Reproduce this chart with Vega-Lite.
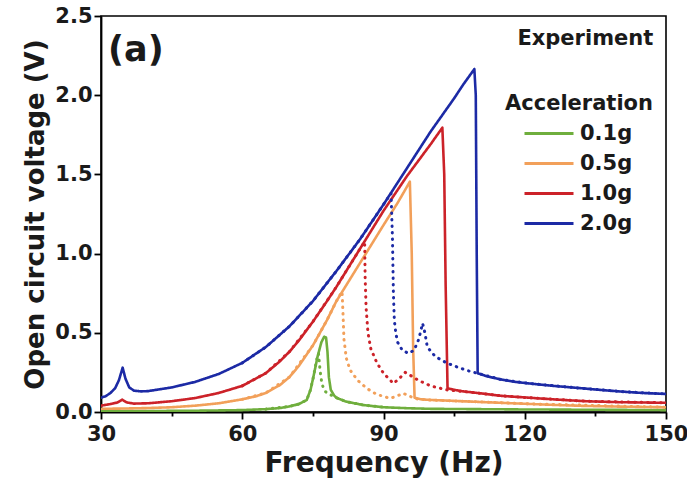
{
  "$schema": "https://vega.github.io/schema/vega-lite/v6.json",
  "width": 565,
  "height": 396,
  "autosize": {"type": "none"},
  "padding": {"left": 101, "top": 16, "right": 21, "bottom": 75},
  "background": "white",
  "config": {
    "font": "DejaVu Sans",
    "view": {"stroke": "#000", "strokeWidth": 1.6},
    "axis": {
      "grid": false,
      "domainColor": "#000",
      "domainWidth": 1.8,
      "tickColor": "#000",
      "tickWidth": 1.8,
      "labelFont": "DejaVu Sans",
      "labelFontWeight": "bold",
      "labelFontSize": 21,
      "labelColor": "#1a1a1a",
      "titleFont": "DejaVu Sans",
      "titleFontWeight": "bold",
      "titleColor": "#1a1a1a"
    }
  },
  "layer": [
    {
      "data": {"values": [
    {"a":"0.1g","s":"up","f":30,"v":0.005},{"a":"0.1g","s":"up","f":40,"v":0.006},{"a":"0.1g","s":"up","f":50,"v":0.008},{"a":"0.1g","s":"up","f":55,"v":0.01},{"a":"0.1g","s":"up","f":60,"v":0.012},{"a":"0.1g","s":"up","f":65,"v":0.018},{"a":"0.1g","s":"up","f":68,"v":0.025},{"a":"0.1g","s":"up","f":70,"v":0.035},{"a":"0.1g","s":"up","f":72,"v":0.05},{"a":"0.1g","s":"up","f":73.7,"v":0.076},{"a":"0.1g","s":"up","f":74.5,"v":0.14},{"a":"0.1g","s":"up","f":75.1,"v":0.22},{"a":"0.1g","s":"up","f":76,"v":0.35},{"a":"0.1g","s":"up","f":76.8,"v":0.44},{"a":"0.1g","s":"up","f":77.4,"v":0.475},{"a":"0.1g","s":"up","f":77.8,"v":0.47},{"a":"0.1g","s":"up","f":78.1,"v":0.38},{"a":"0.1g","s":"up","f":78.4,"v":0.22},{"a":"0.1g","s":"up","f":78.8,"v":0.14},{"a":"0.1g","s":"up","f":79.5,"v":0.105},{"a":"0.1g","s":"up","f":80,"v":0.09},{"a":"0.1g","s":"up","f":82,"v":0.066},{"a":"0.1g","s":"up","f":85.7,"v":0.044},{"a":"0.1g","s":"up","f":90,"v":0.03},{"a":"0.1g","s":"up","f":95,"v":0.024},{"a":"0.1g","s":"up","f":100,"v":0.02},{"a":"0.1g","s":"up","f":110,"v":0.018},{"a":"0.1g","s":"up","f":120,"v":0.016},{"a":"0.1g","s":"up","f":135,"v":0.014},{"a":"0.1g","s":"up","f":150,"v":0.012},

    {"a":"0.5g","s":"up","f":30,"v":0.02},{"a":"0.5g","s":"up","f":35,"v":0.022},{"a":"0.5g","s":"up","f":40,"v":0.025},{"a":"0.5g","s":"up","f":45,"v":0.03},{"a":"0.5g","s":"up","f":50,"v":0.04},{"a":"0.5g","s":"up","f":55,"v":0.055},{"a":"0.5g","s":"up","f":60,"v":0.08},{"a":"0.5g","s":"up","f":63,"v":0.1},{"a":"0.5g","s":"up","f":65,"v":0.12},{"a":"0.5g","s":"up","f":68,"v":0.17},{"a":"0.5g","s":"up","f":70,"v":0.22},{"a":"0.5g","s":"up","f":72,"v":0.29},{"a":"0.5g","s":"up","f":75,"v":0.42},{"a":"0.5g","s":"up","f":78,"v":0.58},{"a":"0.5g","s":"up","f":80,"v":0.7},{"a":"0.5g","s":"up","f":82.5,"v":0.82},{"a":"0.5g","s":"up","f":85,"v":0.94},{"a":"0.5g","s":"up","f":87.5,"v":1.06},{"a":"0.5g","s":"up","f":90,"v":1.18},{"a":"0.5g","s":"up","f":93,"v":1.32},{"a":"0.5g","s":"up","f":95.6,"v":1.454},{"a":"0.5g","s":"up","f":96,"v":1.0},{"a":"0.5g","s":"up","f":96.3,"v":0.4},{"a":"0.5g","s":"up","f":96.6,"v":0.09},{"a":"0.5g","s":"up","f":98,"v":0.08},{"a":"0.5g","s":"up","f":100,"v":0.076},{"a":"0.5g","s":"up","f":105,"v":0.07},{"a":"0.5g","s":"up","f":110,"v":0.064},{"a":"0.5g","s":"up","f":115,"v":0.058},{"a":"0.5g","s":"up","f":120,"v":0.052},{"a":"0.5g","s":"up","f":126,"v":0.045},{"a":"0.5g","s":"up","f":132,"v":0.039},{"a":"0.5g","s":"up","f":140,"v":0.034},{"a":"0.5g","s":"up","f":150,"v":0.03},

    {"a":"1.0g","s":"up","f":30,"v":0.04},{"a":"1.0g","s":"up","f":32,"v":0.05},{"a":"1.0g","s":"up","f":33.5,"v":0.06},{"a":"1.0g","s":"up","f":34.5,"v":0.078},{"a":"1.0g","s":"up","f":35.5,"v":0.06},{"a":"1.0g","s":"up","f":37,"v":0.053},{"a":"1.0g","s":"up","f":40,"v":0.055},{"a":"1.0g","s":"up","f":45,"v":0.068},{"a":"1.0g","s":"up","f":50,"v":0.088},{"a":"1.0g","s":"up","f":55,"v":0.12},{"a":"1.0g","s":"up","f":60,"v":0.165},{"a":"1.0g","s":"up","f":65,"v":0.245},{"a":"1.0g","s":"up","f":68,"v":0.32},{"a":"1.0g","s":"up","f":70,"v":0.38},{"a":"1.0g","s":"up","f":72,"v":0.45},{"a":"1.0g","s":"up","f":75,"v":0.57},{"a":"1.0g","s":"up","f":78,"v":0.7},{"a":"1.0g","s":"up","f":80,"v":0.79},{"a":"1.0g","s":"up","f":82.5,"v":0.91},{"a":"1.0g","s":"up","f":85,"v":1.03},{"a":"1.0g","s":"up","f":87.5,"v":1.15},{"a":"1.0g","s":"up","f":90,"v":1.27},{"a":"1.0g","s":"up","f":92.5,"v":1.38},{"a":"1.0g","s":"up","f":95,"v":1.49},{"a":"1.0g","s":"up","f":97.5,"v":1.59},{"a":"1.0g","s":"up","f":100,"v":1.69},{"a":"1.0g","s":"up","f":102.5,"v":1.795},{"a":"1.0g","s":"up","f":102.9,"v":1.5},{"a":"1.0g","s":"up","f":103.2,"v":0.8},{"a":"1.0g","s":"up","f":103.6,"v":0.15},{"a":"1.0g","s":"up","f":105,"v":0.14},{"a":"1.0g","s":"up","f":107,"v":0.13},{"a":"1.0g","s":"up","f":110,"v":0.12},{"a":"1.0g","s":"up","f":115,"v":0.102},{"a":"1.0g","s":"up","f":121,"v":0.09},{"a":"1.0g","s":"up","f":127,"v":0.078},{"a":"1.0g","s":"up","f":133,"v":0.068},{"a":"1.0g","s":"up","f":140,"v":0.062},{"a":"1.0g","s":"up","f":150,"v":0.058},

    {"a":"2.0g","s":"up","f":30,"v":0.09},{"a":"2.0g","s":"up","f":31,"v":0.1},{"a":"2.0g","s":"up","f":32,"v":0.12},{"a":"2.0g","s":"up","f":33,"v":0.15},{"a":"2.0g","s":"up","f":33.8,"v":0.2},{"a":"2.0g","s":"up","f":34.6,"v":0.28},{"a":"2.0g","s":"up","f":35.2,"v":0.21},{"a":"2.0g","s":"up","f":36,"v":0.155},{"a":"2.0g","s":"up","f":37,"v":0.135},{"a":"2.0g","s":"up","f":38.5,"v":0.13},{"a":"2.0g","s":"up","f":40,"v":0.132},{"a":"2.0g","s":"up","f":45,"v":0.155},{"a":"2.0g","s":"up","f":50,"v":0.19},{"a":"2.0g","s":"up","f":55,"v":0.24},{"a":"2.0g","s":"up","f":60,"v":0.31},{"a":"2.0g","s":"up","f":65,"v":0.41},{"a":"2.0g","s":"up","f":70,"v":0.54},{"a":"2.0g","s":"up","f":75,"v":0.7},{"a":"2.0g","s":"up","f":80,"v":0.89},{"a":"2.0g","s":"up","f":85,"v":1.09},{"a":"2.0g","s":"up","f":90,"v":1.31},{"a":"2.0g","s":"up","f":95,"v":1.54},{"a":"2.0g","s":"up","f":100,"v":1.77},{"a":"2.0g","s":"up","f":105,"v":1.98},{"a":"2.0g","s":"up","f":107,"v":2.07},{"a":"2.0g","s":"up","f":109.3,"v":2.165},{"a":"2.0g","s":"up","f":109.6,"v":2.0},{"a":"2.0g","s":"up","f":109.8,"v":1.0},{"a":"2.0g","s":"up","f":110,"v":0.245},{"a":"2.0g","s":"up","f":112,"v":0.225},{"a":"2.0g","s":"up","f":115,"v":0.205},{"a":"2.0g","s":"up","f":118,"v":0.19},{"a":"2.0g","s":"up","f":121,"v":0.18},{"a":"2.0g","s":"up","f":126,"v":0.165},{"a":"2.0g","s":"up","f":132,"v":0.15},{"a":"2.0g","s":"up","f":137,"v":0.137},{"a":"2.0g","s":"up","f":141,"v":0.128},{"a":"2.0g","s":"up","f":145,"v":0.12},{"a":"2.0g","s":"up","f":150,"v":0.114},

    {"a":"0.1g","s":"down","f":65,"v":0.018},{"a":"0.1g","s":"down","f":70,"v":0.035},{"a":"0.1g","s":"down","f":72,"v":0.05},{"a":"0.1g","s":"down","f":73.7,"v":0.076},{"a":"0.1g","s":"down","f":74.5,"v":0.14},{"a":"0.1g","s":"down","f":75.1,"v":0.22},{"a":"0.1g","s":"down","f":75.8,"v":0.33},{"a":"0.1g","s":"down","f":76.2,"v":0.37},{"a":"0.1g","s":"down","f":76.4,"v":0.3},{"a":"0.1g","s":"down","f":76.7,"v":0.22},{"a":"0.1g","s":"down","f":77,"v":0.17},{"a":"0.1g","s":"down","f":77.6,"v":0.13},{"a":"0.1g","s":"down","f":78.5,"v":0.11},{"a":"0.1g","s":"down","f":79.5,"v":0.1},{"a":"0.1g","s":"down","f":80,"v":0.09},{"a":"0.1g","s":"down","f":82,"v":0.066},{"a":"0.1g","s":"down","f":85.7,"v":0.044},{"a":"0.1g","s":"down","f":90,"v":0.03},

    {"a":"0.5g","s":"down","f":60,"v":0.08},{"a":"0.5g","s":"down","f":65,"v":0.12},{"a":"0.5g","s":"down","f":70,"v":0.22},{"a":"0.5g","s":"down","f":75,"v":0.42},{"a":"0.5g","s":"down","f":78,"v":0.58},{"a":"0.5g","s":"down","f":80,"v":0.7},{"a":"0.5g","s":"down","f":81.2,"v":0.76},{"a":"0.5g","s":"down","f":81.4,"v":0.62},{"a":"0.5g","s":"down","f":81.6,"v":0.46},{"a":"0.5g","s":"down","f":82.1,"v":0.34},{"a":"0.5g","s":"down","f":82.9,"v":0.265},{"a":"0.5g","s":"down","f":84.5,"v":0.2},{"a":"0.5g","s":"down","f":86.4,"v":0.15},{"a":"0.5g","s":"down","f":88.5,"v":0.112},{"a":"0.5g","s":"down","f":91.4,"v":0.086},{"a":"0.5g","s":"down","f":92.8,"v":0.1},{"a":"0.5g","s":"down","f":94.2,"v":0.118},{"a":"0.5g","s":"down","f":95.5,"v":0.1},{"a":"0.5g","s":"down","f":97,"v":0.083},{"a":"0.5g","s":"down","f":100,"v":0.076},{"a":"0.5g","s":"down","f":110,"v":0.064},{"a":"0.5g","s":"down","f":120,"v":0.052},{"a":"0.5g","s":"down","f":150,"v":0.03},

    {"a":"1.0g","s":"down","f":60,"v":0.165},{"a":"1.0g","s":"down","f":65,"v":0.245},{"a":"1.0g","s":"down","f":70,"v":0.38},{"a":"1.0g","s":"down","f":75,"v":0.57},{"a":"1.0g","s":"down","f":80,"v":0.79},{"a":"1.0g","s":"down","f":85,"v":1.03},{"a":"1.0g","s":"down","f":86,"v":1.075},{"a":"1.0g","s":"down","f":86.1,"v":0.85},{"a":"1.0g","s":"down","f":86.3,"v":0.66},{"a":"1.0g","s":"down","f":86.7,"v":0.5},{"a":"1.0g","s":"down","f":87.3,"v":0.4},{"a":"1.0g","s":"down","f":88.6,"v":0.31},{"a":"1.0g","s":"down","f":90,"v":0.245},{"a":"1.0g","s":"down","f":92.1,"v":0.18},{"a":"1.0g","s":"down","f":93.3,"v":0.21},{"a":"1.0g","s":"down","f":94.6,"v":0.25},{"a":"1.0g","s":"down","f":95.5,"v":0.235},{"a":"1.0g","s":"down","f":97.4,"v":0.2},{"a":"1.0g","s":"down","f":100,"v":0.165},{"a":"1.0g","s":"down","f":103.4,"v":0.14},{"a":"1.0g","s":"down","f":105,"v":0.135},{"a":"1.0g","s":"down","f":110,"v":0.12},{"a":"1.0g","s":"down","f":115,"v":0.102},{"a":"1.0g","s":"down","f":121,"v":0.09},{"a":"1.0g","s":"down","f":133,"v":0.068},{"a":"1.0g","s":"down","f":150,"v":0.058},

    {"a":"2.0g","s":"down","f":60,"v":0.31},{"a":"2.0g","s":"down","f":65,"v":0.41},{"a":"2.0g","s":"down","f":70,"v":0.54},{"a":"2.0g","s":"down","f":75,"v":0.7},{"a":"2.0g","s":"down","f":80,"v":0.89},{"a":"2.0g","s":"down","f":85,"v":1.09},{"a":"2.0g","s":"down","f":90,"v":1.31},{"a":"2.0g","s":"down","f":91.6,"v":1.38},{"a":"2.0g","s":"down","f":91.9,"v":1.1},{"a":"2.0g","s":"down","f":92.1,"v":0.75},{"a":"2.0g","s":"down","f":92.3,"v":0.58},{"a":"2.0g","s":"down","f":92.6,"v":0.5},{"a":"2.0g","s":"down","f":93,"v":0.44},{"a":"2.0g","s":"down","f":94,"v":0.39},{"a":"2.0g","s":"down","f":95.3,"v":0.37},{"a":"2.0g","s":"down","f":96.5,"v":0.39},{"a":"2.0g","s":"down","f":97.5,"v":0.46},{"a":"2.0g","s":"down","f":98.3,"v":0.56},{"a":"2.0g","s":"down","f":98.8,"v":0.5},{"a":"2.0g","s":"down","f":99.3,"v":0.41},{"a":"2.0g","s":"down","f":101,"v":0.35},{"a":"2.0g","s":"down","f":103.4,"v":0.31},{"a":"2.0g","s":"down","f":106,"v":0.28},{"a":"2.0g","s":"down","f":108.4,"v":0.256},{"a":"2.0g","s":"down","f":110.5,"v":0.24},{"a":"2.0g","s":"down","f":115,"v":0.205},{"a":"2.0g","s":"down","f":121,"v":0.18},{"a":"2.0g","s":"down","f":132,"v":0.15},{"a":"2.0g","s":"down","f":141,"v":0.128},{"a":"2.0g","s":"down","f":150,"v":0.114}
      ]},
      "mark": {"type": "line", "strokeCap": "round", "strokeJoin": "round", "clip": true},
      "encoding": {
        "x": {
          "field": "f", "type": "quantitative",
          "scale": {"domain": [30, 150], "nice": false, "zero": false},
          "axis": {
            "title": "Frequency (Hz)",
            "titleFontSize": 28,
            "titlePadding": 5,
            "values": [30, 45, 60, 75, 90, 105, 120, 135, 150],
            "labelExpr": "datum.value % 30 == 0 ? datum.label : ''",
            "labelFlush": false,
            "labelOverlap": false,
            "labelPadding": 4,
            "tickSize": {"condition": {"test": "datum.value % 30 != 0", "value": 4}, "value": 7}
          }
        },
        "y": {
          "field": "v", "type": "quantitative",
          "scale": {"domain": [0, 2.5], "nice": false},
          "axis": {
            "title": "Open circuit voltage (V)",
            "titleFontSize": 26,
            "titlePadding": 6,
            "values": [0, 0.25, 0.5, 0.75, 1, 1.25, 1.5, 1.75, 2, 2.25, 2.5],
            "labelExpr": "(datum.value * 4) % 2 == 0 ? format(datum.value, '.1f') : ''",
            "labelOverlap": false,
            "labelFlush": false,
            "labelPadding": 2,
            "tickSize": {"condition": {"test": "(datum.value * 4) % 2 == 1", "value": 4}, "value": 7}
          }
        },
        "color": {
          "field": "a", "type": "nominal",
          "scale": {"domain": ["0.1g", "0.5g", "1.0g", "2.0g"], "range": ["#6fae3d", "#f2a05a", "#cc2229", "#1c2aa5"]},
          "legend": {
            "title": "Acceleration",
            "orient": "none",
            "legendX": 404,
            "legendY": 77,
            "padding": 0,
            "titleFont": "DejaVu Sans",
            "titleFontSize": 21,
            "titleFontWeight": "bold",
            "titleColor": "#1a1a1a",
            "titleAnchor": "start",
            "titleAlign": "left",
            "titlePadding": 8,
            "labelFont": "DejaVu Sans",
            "labelFontSize": 21,
            "labelFontWeight": "bold",
            "labelColor": "#1a1a1a",
            "labelOffset": 19.5,
            "symbolType": "M-2.45,0H2.45",
            "symbolSize": 400,
            "symbolOffset": 32.5,
            "symbolStrokeWidth": 3,
            "rowPadding": 8
          }
        },
        "strokeDash": {
          "field": "s", "type": "nominal",
          "scale": {"domain": ["up", "down"], "range": [[1, 0], [0.5, 6]]},
          "legend": null
        },
        "strokeWidth": {
          "field": "s", "type": "nominal",
          "scale": {"domain": ["up", "down"], "range": [2.6, 3]},
          "legend": null
        }
      }
    },
    {
      "data": {"values": [{"label": "(a)"}]},
      "mark": {"type": "text", "align": "left", "baseline": "middle", "font": "DejaVu Sans", "fontWeight": "bold", "fontSize": 35, "color": "#1a1a1a"},
      "encoding": {
        "x": {"datum": 31.5, "type": "quantitative"},
        "y": {"datum": 2.285, "type": "quantitative"},
        "text": {"field": "label"}
      }
    },
    {
      "data": {"values": [{"label": "Experiment"}]},
      "mark": {"type": "text", "align": "right", "baseline": "middle", "font": "DejaVu Sans", "fontWeight": "bold", "fontSize": 21, "color": "#1a1a1a"},
      "encoding": {
        "x": {"datum": 147.3, "type": "quantitative"},
        "y": {"datum": 2.355, "type": "quantitative"},
        "text": {"field": "label"}
      }
    }
  ]
}
